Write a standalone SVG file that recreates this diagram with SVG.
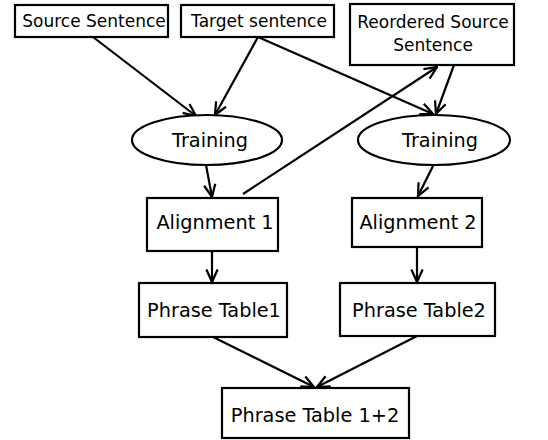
<svg xmlns="http://www.w3.org/2000/svg" width="548" height="440" viewBox="0 0 548 440">
<style>
.box{fill:#fff;stroke:#000;stroke-width:2.2}
.t1{font-family:"DejaVu Sans",sans-serif;font-size:17px;text-anchor:middle;fill:#000}
.t2{font-family:"DejaVu Sans",sans-serif;font-size:19.3px;text-anchor:middle;fill:#000}
.e{stroke:#000;stroke-width:2.2;fill:none;marker-end:url(#a)}
</style>
<defs>
<marker id="a" viewBox="0 0 12 12" refX="11" refY="6" markerWidth="15" markerHeight="15" markerUnits="userSpaceOnUse" orient="auto">
<path d="M1,1.5 L11,6 L1,10.5" fill="none" stroke="#000" stroke-width="1.8"/>
</marker>
</defs>
<rect width="548" height="440" fill="#fff"/>
<g id="connectors">
<line class="e" x1="93" y1="37" x2="196" y2="116"/>
<line class="e" x1="258" y1="37" x2="215" y2="115"/>
<line class="e" x1="258" y1="37" x2="433" y2="114"/>
<line class="e" x1="454" y1="65" x2="436" y2="114"/>
<line class="e" x1="243" y1="194" x2="437" y2="67"/>
<line class="e" x1="206" y1="165" x2="212" y2="197"/>
<line class="e" x1="433" y1="166" x2="418" y2="196"/>
<line class="e" x1="212" y1="251" x2="212" y2="282"/>
<line class="e" x1="417" y1="247" x2="417" y2="282"/>
<line class="e" x1="213" y1="337" x2="314" y2="387"/>
<line class="e" x1="417" y1="336" x2="317" y2="387"/>
</g>
<g id="source"><rect class="box" x="15" y="5" width="153" height="32"/><text class="t1" x="94" y="27">Source Sentence</text></g>
<g id="target"><rect class="box" x="181" y="5" width="153" height="32"/><text class="t1" x="259" y="27">Target sentence</text></g>
<g id="reordered"><rect class="box" x="350" y="4" width="164" height="61"/><text class="t1" x="433" y="28">Reordered Source</text><text class="t1" x="433" y="51">Sentence</text></g>
<g id="training1"><ellipse class="box" cx="207" cy="140" rx="75" ry="25"/><text class="t2" x="210" y="147">Training</text></g>
<g id="training2"><ellipse class="box" cx="434" cy="140" rx="76" ry="25"/><text class="t2" x="440" y="147">Training</text></g>
<g id="align1"><rect class="box" x="147" y="198" width="131" height="53"/><text class="t2" x="215" y="229">Alignment 1</text></g>
<g id="align2"><rect class="box" x="352" y="198" width="130" height="49"/><text class="t2" x="418" y="229">Alignment 2</text></g>
<g id="pt1"><rect class="box" x="139" y="283" width="148" height="54"/><text class="t2" x="214" y="317">Phrase Table1</text></g>
<g id="pt2"><rect class="box" x="340" y="283" width="155" height="53"/><text class="t2" x="419" y="317">Phrase Table2</text></g>
<g id="pt12"><rect class="box" x="222" y="388" width="187" height="50"/><text class="t2" x="315" y="422">Phrase Table 1+2</text></g>
</svg>
